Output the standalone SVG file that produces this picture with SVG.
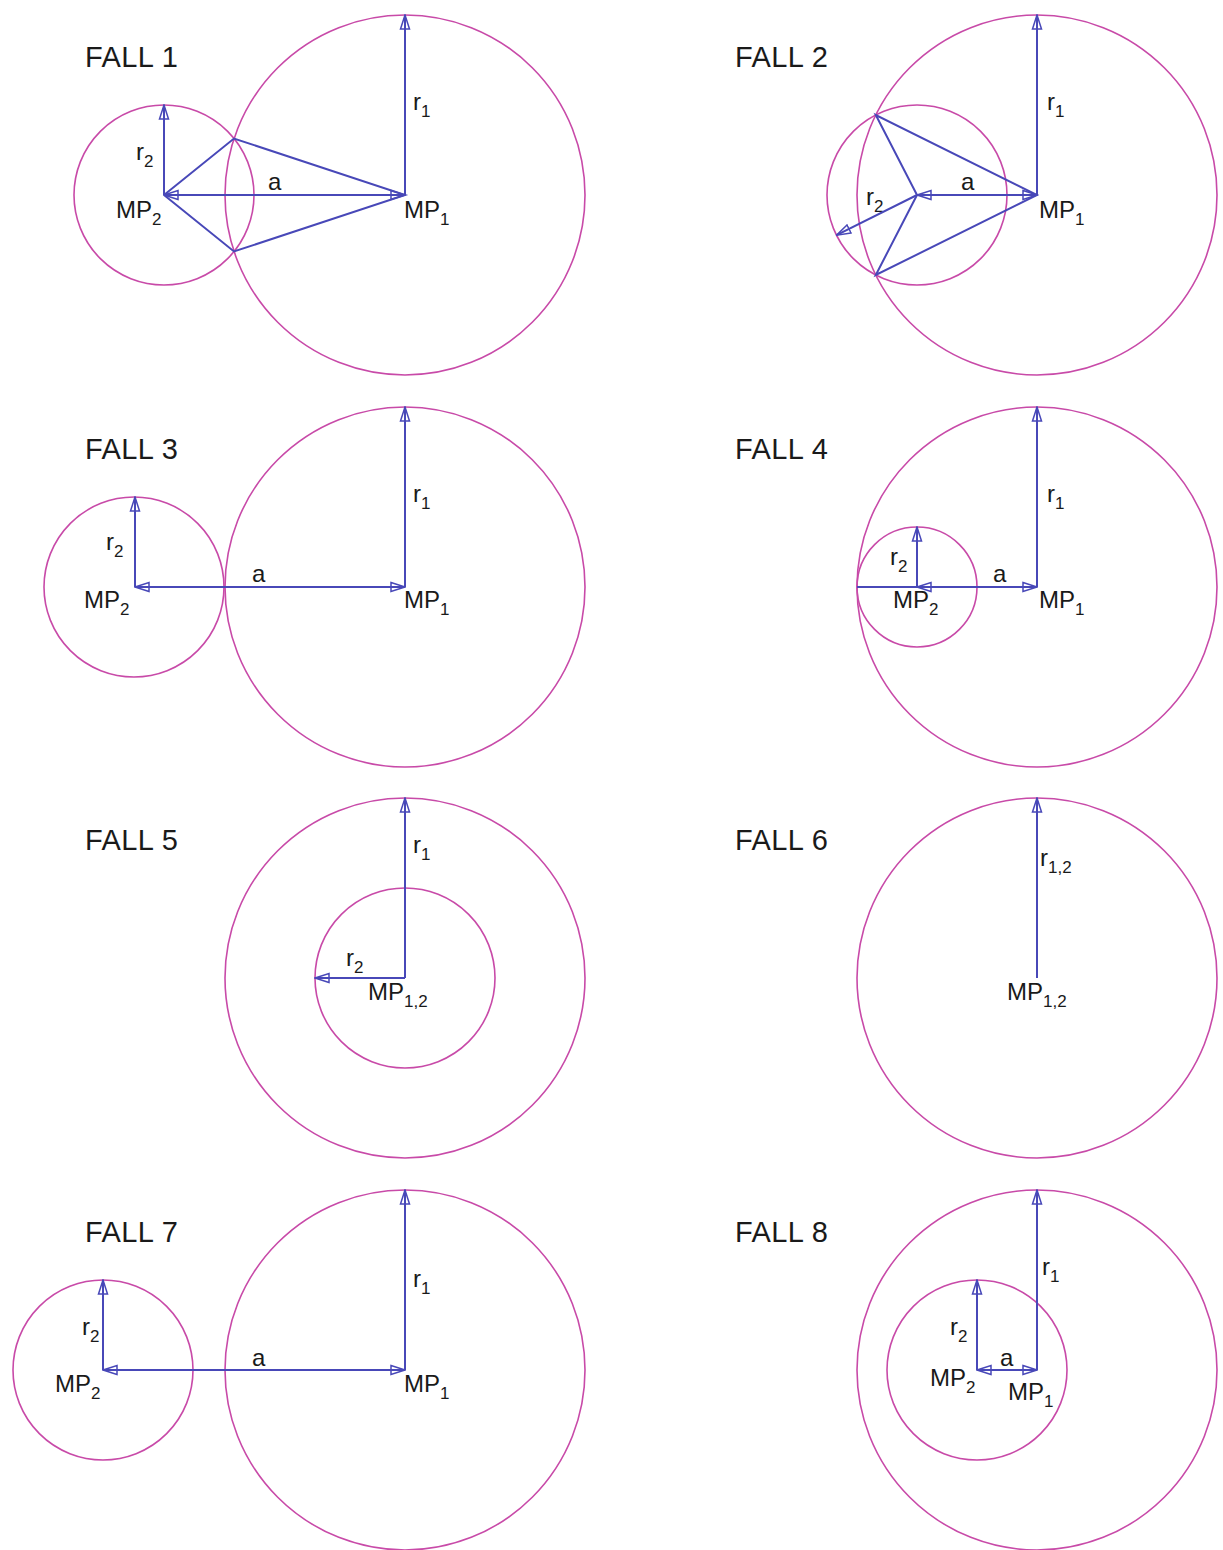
<svg xmlns="http://www.w3.org/2000/svg" width="1223" height="1550" viewBox="0 0 1223 1550">
<defs>
<marker id="ah" viewBox="0 0 16 12" refX="15" refY="6" markerWidth="16" markerHeight="12" markerUnits="userSpaceOnUse" orient="auto-start-reverse">
<path d="M1,1.5 L15,6 L1,10.5 Z" fill="none" stroke="#4848b8" stroke-width="1.5"/>
</marker>
<style>
.c{fill:none;stroke:#c84aa8;stroke-width:1.6}
.l{fill:none;stroke:#4848b8;stroke-width:2}
.a{fill:none;stroke:#4848b8;stroke-width:2;marker-end:url(#ah)}
.d{fill:none;stroke:#4848b8;stroke-width:2;marker-end:url(#ah);marker-start:url(#ah)}
.t{font-family:"Liberation Sans",Arial,sans-serif;font-size:29px;letter-spacing:0.4px;fill:#1a1a1a}
.s{font-family:"Liberation Sans",Arial,sans-serif;font-size:24px;fill:#1a1a1a}
.b{font-size:17px}
</style>
</defs>
<rect width="1223" height="1550" fill="#ffffff"/>

<!-- FALL 1 -->
<g id="fall1">
<circle class="c" cx="405" cy="195" r="180"/>
<circle class="c" cx="164" cy="195" r="90"/>
<text class="t" x="85" y="67">FALL 1</text>
<text class="s" x="413" y="110">r<tspan class="b" dy="7">1</tspan></text>
<text class="s" x="136" y="160">r<tspan class="b" dy="7">2</tspan></text>
<text class="s" x="268" y="190">a</text>
<text class="s" x="116" y="218">MP<tspan class="b" dy="7">2</tspan></text>
<text class="s" x="404" y="218">MP<tspan class="b" dy="7">1</tspan></text>
</g>
<!-- FALL 2 -->
<g id="fall2">
<circle class="c" cx="1037" cy="195" r="180"/>
<circle class="c" cx="917" cy="195" r="90"/>
<text class="t" x="735" y="67">FALL 2</text>
<text class="s" x="1047" y="110">r<tspan class="b" dy="7">1</tspan></text>
<text class="s" x="866" y="205">r<tspan class="b" dy="7">2</tspan></text>
<text class="s" x="961" y="190">a</text>
<text class="s" x="1039" y="218">MP<tspan class="b" dy="7">1</tspan></text>
</g>
<!-- FALL 3 -->
<g id="fall3">
<circle class="c" cx="405" cy="587" r="180"/>
<circle class="c" cx="134" cy="587" r="90"/>
<text class="t" x="85" y="459">FALL 3</text>
<text class="s" x="413" y="502">r<tspan class="b" dy="7">1</tspan></text>
<text class="s" x="106" y="550">r<tspan class="b" dy="7">2</tspan></text>
<text class="s" x="252" y="582">a</text>
<text class="s" x="84" y="608">MP<tspan class="b" dy="7">2</tspan></text>
<text class="s" x="404" y="608">MP<tspan class="b" dy="7">1</tspan></text>
</g>
<!-- FALL 4 -->
<g id="fall4">
<circle class="c" cx="1037" cy="587" r="180"/>
<circle class="c" cx="917" cy="587" r="60"/>
<text class="t" x="735" y="459">FALL 4</text>
<text class="s" x="1047" y="502">r<tspan class="b" dy="7">1</tspan></text>
<text class="s" x="890" y="565">r<tspan class="b" dy="7">2</tspan></text>
<text class="s" x="993" y="582">a</text>
<text class="s" x="893" y="608">MP<tspan class="b" dy="7">2</tspan></text>
<text class="s" x="1039" y="608">MP<tspan class="b" dy="7">1</tspan></text>
</g>
<!-- FALL 5 -->
<g id="fall5">
<circle class="c" cx="405" cy="978" r="180"/>
<circle class="c" cx="405" cy="978" r="90"/>
<text class="t" x="85" y="850">FALL 5</text>
<text class="s" x="413" y="853">r<tspan class="b" dy="7">1</tspan></text>
<text class="s" x="346" y="966">r<tspan class="b" dy="7">2</tspan></text>
<text class="s" x="368" y="1000">MP<tspan class="b" dy="7">1,2</tspan></text>
</g>
<!-- FALL 6 -->
<g id="fall6">
<circle class="c" cx="1037" cy="978" r="180"/>
<text class="t" x="735" y="850">FALL 6</text>
<text class="s" x="1040" y="866">r<tspan class="b" dy="7">1,2</tspan></text>
<text class="s" x="1007" y="1000">MP<tspan class="b" dy="7">1,2</tspan></text>
</g>
<!-- FALL 7 -->
<g id="fall7">
<circle class="c" cx="405" cy="1370" r="180"/>
<circle class="c" cx="103" cy="1370" r="90"/>
<text class="t" x="85" y="1242">FALL 7</text>
<text class="s" x="413" y="1287">r<tspan class="b" dy="7">1</tspan></text>
<text class="s" x="82" y="1335">r<tspan class="b" dy="7">2</tspan></text>
<text class="s" x="252" y="1366">a</text>
<text class="s" x="55" y="1392">MP<tspan class="b" dy="7">2</tspan></text>
<text class="s" x="404" y="1392">MP<tspan class="b" dy="7">1</tspan></text>
</g>
<!-- FALL 8 -->
<g id="fall8">
<circle class="c" cx="1037" cy="1370" r="180"/>
<circle class="c" cx="977" cy="1370" r="90"/>
<text class="t" x="735" y="1242">FALL 8</text>
<text class="s" x="1042" y="1275">r<tspan class="b" dy="7">1</tspan></text>
<text class="s" x="950" y="1335">r<tspan class="b" dy="7">2</tspan></text>
<text class="s" x="1000" y="1366">a</text>
<text class="s" x="930" y="1386">MP<tspan class="b" dy="7">2</tspan></text>
<text class="s" x="1008" y="1400">MP<tspan class="b" dy="7">1</tspan></text>
</g>

<g id="connectors">
<!-- fall 1 -->
<line class="a" x1="405" y1="195" x2="405" y2="15"/>
<line class="a" x1="164" y1="195" x2="164" y2="105"/>
<line class="d" x1="164" y1="195" x2="405" y2="195"/>
<polyline class="l" points="164,195 234,138.5 405,195 234,251.5 164,195"/>
<!-- fall 2 -->
<line class="a" x1="1037" y1="195" x2="1037" y2="15"/>
<line class="d" x1="917" y1="195" x2="1037" y2="195"/>
<line class="a" x1="917" y1="195" x2="836.5" y2="235.2"/>
<polyline class="l" points="917,195 875.8,115 1037,195 875.8,275 917,195"/>
<!-- fall 3 -->
<line class="a" x1="405" y1="587" x2="405" y2="407"/>
<line class="a" x1="135" y1="587" x2="135" y2="497"/>
<line class="d" x1="135" y1="587" x2="405" y2="587"/>
<!-- fall 4 -->
<line class="a" x1="1037" y1="587" x2="1037" y2="407"/>
<line class="a" x1="917" y1="587" x2="917" y2="527"/>
<line class="l" x1="857" y1="587" x2="917" y2="587"/>
<line class="d" x1="917" y1="587" x2="1037" y2="587"/>
<!-- fall 5 -->
<line class="a" x1="405" y1="978" x2="405" y2="798"/>
<line class="a" x1="405" y1="978" x2="315" y2="978"/>
<!-- fall 6 -->
<line class="a" x1="1037" y1="978" x2="1037" y2="798"/>
<!-- fall 7 -->
<line class="a" x1="405" y1="1370" x2="405" y2="1190"/>
<line class="a" x1="103" y1="1370" x2="103" y2="1280"/>
<line class="d" x1="103" y1="1370" x2="405" y2="1370"/>
<!-- fall 8 -->
<line class="a" x1="1037" y1="1370" x2="1037" y2="1190"/>
<line class="a" x1="977" y1="1370" x2="977" y2="1280"/>
<line class="d" x1="977" y1="1370" x2="1037" y2="1370"/>
</g>
</svg>
